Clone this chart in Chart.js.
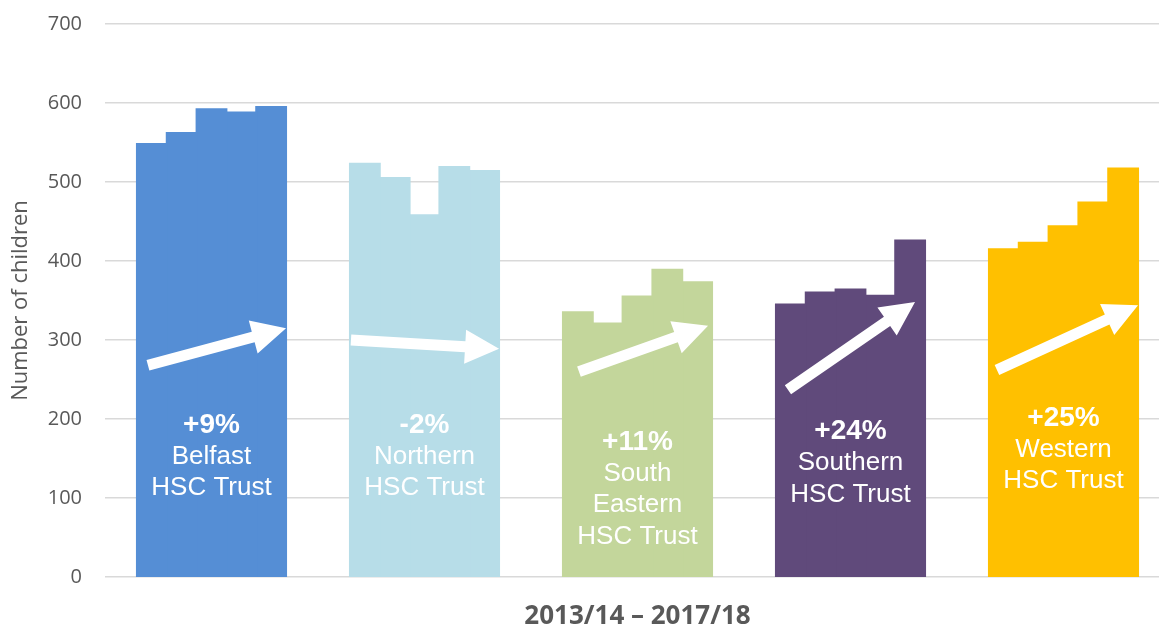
<!DOCTYPE html>
<html>
<head>
<meta charset="utf-8">
<script src="https://cdn.jsdelivr.net/npm/chart.js@4"></script>
<style>
  html, body { margin: 0; padding: 0; background: #fff; overflow: hidden; }
  #wrap { position: relative; width: 1170px; height: 629px; }
</style>
</head>
<body>
<div id="wrap"><canvas id="chart"></canvas></div>
<script>
// ============================================
// Data
// ============================================
const trusts = ["Belfast", "Northern", "South Eastern", "Southern", "Western"];
const years = ["2013/14", "2014/15", "2015/16", "2016/17", "2017/18"];

// children per trust, one array per year
const y2013 = [548, 523, 335, 345, 415];
const y2014 = [562, 505, 321, 360, 423];
const y2015 = [592, 458, 355, 364, 444];
const y2016 = [588, 519, 389, 356, 474];
const y2017 = [595, 514, 373, 426, 517];

const changeLabels = ["+9%", "-2%", "+11%", "+24%", "+25%"];
const nameLabels = [
  ["Belfast", "HSC Trust"],
  ["Northern", "HSC Trust"],
  ["South", "Eastern", "HSC Trust"],
  ["Southern", "HSC Trust"],
  ["Western", "HSC Trust"],
];

// trend arrows, in axis values: where tail and tip sit
const arrowFrom = [268, 300, 260, 237, 262];
const arrowTo = [315, 289, 318, 348, 344];

const yTicks = [0, 100, 200, 300, 400, 500, 600, 700];

// ============================================
// Styles
// ============================================
const trustColors = ["#558ED5", "#B7DDE8", "#C3D69B", "#604A7B", "#FFC000"];
const GREY = "#595959";

// annotation placement (pixels / axis values), kept apart from the data
const arrowStyle = {
  tailInset: [11, 1, 16, 12, 8],
  tipInset: [0, 0, 4, 10, 0],
  shaft: 5.5,
  headLen: 34,
  headHalf: 17,
};
const labelTop = [192, 192, 171, 184, 201]; // value at centre of first line
const labelLine = 31.5;

// ============================================
// Plugins
// ============================================
function groupBounds(chart, i) {
  const first = chart.getDatasetMeta(0).data[i];
  const last = chart.getDatasetMeta(chart.data.datasets.length - 1).data[i];
  return {
    left: first.x - first.width / 2,
    right: last.x + last.width / 2,
  };
}

const arrowsPlugin = {
  id: "trendArrows",
  afterDatasetsDraw(chart) {
    const ctx = chart.ctx;
    const y = chart.scales.y;
    ctx.save();
    ctx.fillStyle = "#ffffff";
    trusts.forEach((_, i) => {
      const b = groupBounds(chart, i);
      const x0 = b.left + arrowStyle.tailInset[i];
      const y0 = y.getPixelForValue(arrowFrom[i]);
      const x1 = b.right - arrowStyle.tipInset[i];
      const y1 = y.getPixelForValue(arrowTo[i]);
      const ang = Math.atan2(y1 - y0, x1 - x0);
      const len = Math.hypot(x1 - x0, y1 - y0);

      ctx.save();
      ctx.translate(x0, y0);
      ctx.rotate(ang);
      const s = arrowStyle.shaft;
      const hl = arrowStyle.headLen;
      const hh = arrowStyle.headHalf;
      ctx.beginPath();
      ctx.moveTo(0, -s);
      ctx.lineTo(len - hl, -s);
      ctx.lineTo(len - hl, -hh);
      ctx.lineTo(len, 0);
      ctx.lineTo(len - hl, hh);
      ctx.lineTo(len - hl, s);
      ctx.lineTo(0, s);
      ctx.closePath();
      ctx.fill();
      ctx.restore();
    });
    ctx.restore();
  },
};

const labelsPlugin = {
  id: "trustLabels",
  afterDatasetsDraw(chart) {
    const ctx = chart.ctx;
    const y = chart.scales.y;
    ctx.save();
    ctx.fillStyle = "#ffffff";
    ctx.textAlign = "center";
    ctx.textBaseline = "middle";
    trusts.forEach((_, i) => {
      const b = groupBounds(chart, i);
      const cx = (b.left + b.right) / 2;
      let cy = y.getPixelForValue(labelTop[i]);
      ctx.font = "bold 28px 'Liberation Sans', Arial, sans-serif";
      ctx.fillText(changeLabels[i], cx, cy);
      ctx.font = "26px 'Liberation Sans', Arial, sans-serif";
      nameLabels[i].forEach((line) => {
        cy += labelLine;
        ctx.fillText(line, cx, cy);
      });
    });
    ctx.restore();
  },
};

// ============================================
// Chart
// ============================================
const yearSeries = [y2013, y2014, y2015, y2016, y2017];

new Chart(document.getElementById("chart"), {
  type: "bar",
  data: {
    labels: trusts,
    datasets: yearSeries.map((vals, k) => ({
      label: years[k],
      data: vals,
      backgroundColor: trustColors,
      borderWidth: 0,
      inflateAmount: 1,
      categoryPercentage: 0.7,
      barPercentage: 1.0,
    })),
  },
  options: {
    responsive: true,
    maintainAspectRatio: false,
    animation: false,
    layout: { padding: { top: 24, left: 0, right: 0, bottom: 0 } },
    plugins: {
      legend: { display: false },
      tooltip: { enabled: false },
    },
    scales: {
      x: {
        grid: { display: false },
        border: { display: false },
        ticks: { display: false },
        title: {
          display: true,
          text: "2013/14 – 2017/18",
          color: GREY,
          font: { family: "'Open Sans', sans-serif", size: 26, weight: "bold", lineHeight: 0.95 },
          padding: { top: 0, bottom: 0 },
        },
        afterFit(scale) {
          scale.height = 52;
        },
      },
      y: {
        min: 0,
        max: 700,
        afterBuildTicks(scale) {
          scale.ticks = yTicks.map((v) => ({ value: v }));
        },
        grid: {
          color: "#D9D9D9",
          lineWidth: 1.6,
          drawTicks: true,
          tickLength: 23,
          tickColor: "rgba(0,0,0,0)",
        },
        border: { display: false },
        ticks: {
          color: GREY,
          padding: 0,
          font: { family: "'Open Sans', sans-serif", size: 20 },
        },
        title: {
          display: true,
          text: "Number of children",
          color: GREY,
          font: { family: "'Open Sans', sans-serif", size: 22 },
          padding: { top: 8, bottom: 0 },
        },
        afterFit(scale) {
          scale.width = 105;
        },
      },
    },
  },
  plugins: [arrowsPlugin, labelsPlugin],
});
</script>
</body>
</html>
